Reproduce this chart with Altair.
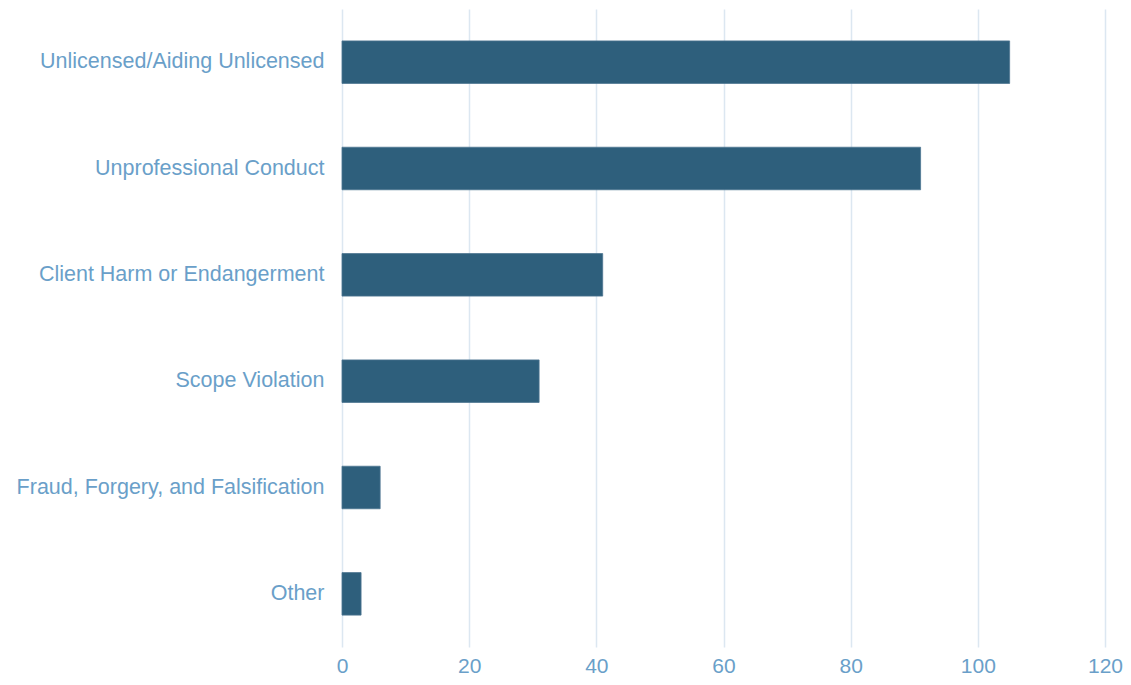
import altair as alt
import pandas as pd

categories = [
    "Unlicensed/Aiding Unlicensed",
    "Unprofessional Conduct",
    "Client Harm or Endangerment",
    "Scope Violation",
    "Fraud, Forgery, and Falsification",
    "Other",
]
counts = [105, 91, 41, 31, 6, 3]

df = pd.DataFrame({"category": categories, "count": counts})

label_color = "#6a9fc9"

chart = (
    alt.Chart(df)
    .mark_bar(color="#2e5f7c", stroke="#4d7590", strokeWidth=0.8)
    .encode(
        x=alt.X(
            "count:Q",
            scale=alt.Scale(domain=[0, 120], nice=False),
            axis=alt.Axis(
                title=None,
                values=[0, 20, 40, 60, 80, 100, 120],
                grid=True,
                gridColor="#dce7f1",
                gridWidth=1.5,
                domain=False,
                ticks=False,
                labelColor=label_color,
                labelFontSize=21,
                labelFont="Liberation Sans",
                labelPadding=8,
                labelFlush=False,
            ),
        ),
        y=alt.Y(
            "category:N",
            sort=categories,
            scale=alt.Scale(paddingInner=0.6, paddingOuter=0.3),
            axis=alt.Axis(
                title=None,
                domain=False,
                ticks=False,
                grid=False,
                labelColor=label_color,
                labelFontSize=21.5,
                labelFont="Liberation Sans",
                labelPadding=18,
                labelLimit=400,
            ),
        ),
    )
    .properties(
        width=763,
        height=638,
        autosize=alt.AutoSizeParams(type="none"),
        padding={"left": 334, "top": 1, "right": 18, "bottom": 30},
    )
    .configure_view(stroke=None)
)

chart.save("out.html", embed_options={"renderer": "svg", "actions": False})
